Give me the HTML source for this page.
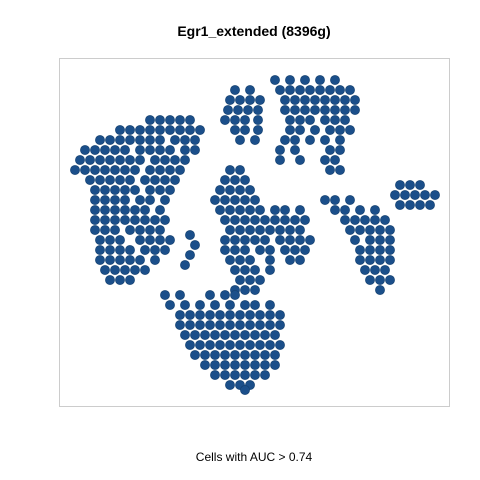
<!DOCTYPE html>
<html><head><meta charset="utf-8"><style>
body{margin:0;background:#fff;}
svg{display:block;font-family:"Liberation Sans",sans-serif;}
</style></head><body>
<svg id="chart" width="480" height="480">
<text x="254" y="36" text-anchor="middle" font-size="14" font-weight="bold">Egr1_extended (8396g)</text>
<rect x="59.5" y="58.5" width="390" height="348" fill="none" stroke="#cccccc"/>
<g id="points"></g>
<text x="254" y="461" text-anchor="middle" font-size="12">Cells with AUC &gt; 0.74</text>
</svg>
<script>
// rows of cells: tsne2 coordinate and list of tsne1 coordinates
const rowY = [120,130,140,150,160,170,180,190,200,210,220,230,240,250,260,270,280,
 90,100,110,120,130,140,
 80,90,100,110,120,130,140,150,160,170,
 170,180,190,200,210,220,230,240,250,260,270,280,290,
 235,245,255,265,
 200,210,220,230,240,250,260,270,280,290,
 185,195,205,
 295,305,315,325,335,345,355,365,375,385,390];
const rowX = [
 [150,160,170,180,190],
 [120,130,140,150,160,170,180,190,200],
 [100,110,120,130,140,150,160,175,185,195],
 [85,95,105,115,125,140,150,160,170,185,195],
 [80,90,100,110,120,130,140,155,165,175,185],
 [75,85,95,105,115,125,135,150,160,170,180],
 [90,100,110,120,130,145,155,165,175],
 [95,105,115,125,135,150,160,170],
 [95,105,115,125,140,150,165],
 [95,105,115,125,135,145,160],
 [95,105,115,125,135,145,155,165],
 [95,105,115,130,140,150,160],
 [100,110,120,140,150,160,170],
 [100,110,120,130,145,155,165],
 [100,110,120,130,140,155],
 [105,115,125,135,145],
 [110,120,130],
 [235,250],[230,240,250,260],[228,238,248,258],[225,235,245,258],[235,245,258],[240,255],
 [275,290,305,320,335],
 [280,290,300,310,320,330,340,350],
 [285,295,305,315,325,335,345,355],
 [285,295,305,315,325,335,345,355],
 [290,300,310,325,335,345],
 [290,300,315,330,340,350],
 [285,295,310,325,340],
 [280,295,330,340],
 [280,300,325,335],
 [330,340],
 [230,240],[225,235,245],[220,230,240,250],[215,225,235,245,255],
 [220,230,240,250,260,275,285,300],
 [225,235,245,255,265,275,285,295,305],
 [230,240,250,260,270,280,290,300],
 [225,235,245,255,265,280,290,300,310],
 [225,235,245,260,270,285,295,305],
 [230,240,250,270,290,300],
 [235,245,255,270],
 [240,250,260],
 [235,245,255],
 [190],[195],[190],[185],
 [325,335,350],[335,345,360,375],[345,355,365,375,385],[350,360,370,380,390],
 [355,370,380,390],[360,370,380,390],[360,370,380,390],[365,375,385],[370,380,390],[380],
 [400,410,420],[395,405,415,425,435],[400,410,420,430],
 [165,180,210,225,235],
 [170,185,200,215,230,245,255,270],
 [180,190,200,210,220,230,240,250,260,270,280],
 [180,190,200,210,220,230,240,250,260,270,280],
 [185,195,205,215,225,235,245,255,265,275],
 [190,200,210,220,230,240,250,260,270,280],
 [195,205,215,225,235,245,255,265,275],
 [205,215,225,235,245,255,265,275],
 [215,225,235,245,255,265],
 [230,240,250],
 [245]
];
const ptsX = [];
const ptsY = [];
rowY.forEach((y,i)=>rowX[i].forEach(x=>{ptsX.push(x);ptsY.push(y);}));

const xDomain=[60,449], xRange=[60,449];
const yDomain=[58,406], yRange=[58,406];
function xs(v){return xRange[0]+(v-xDomain[0])/(xDomain[1]-xDomain[0])*(xRange[1]-xRange[0]);}
function ys(v){return yRange[0]+(v-yDomain[0])/(yDomain[1]-yDomain[0])*(yRange[1]-yRange[0]);}

const g=document.getElementById('points');
const NS='http://www.w3.org/2000/svg';
for(let i=0;i<ptsX.length;i++){
  const c=document.createElementNS(NS,'circle');
  c.setAttribute('cx',xs(ptsX[i]));
  c.setAttribute('cy',ys(ptsY[i]));
  c.setAttribute('r',4.6);
  c.setAttribute('fill','#1b4f8a');
  c.setAttribute('stroke','#14406f');
  c.setAttribute('stroke-width','0.6');
  
  
  g.appendChild(c);
}
</script>
</body></html>
